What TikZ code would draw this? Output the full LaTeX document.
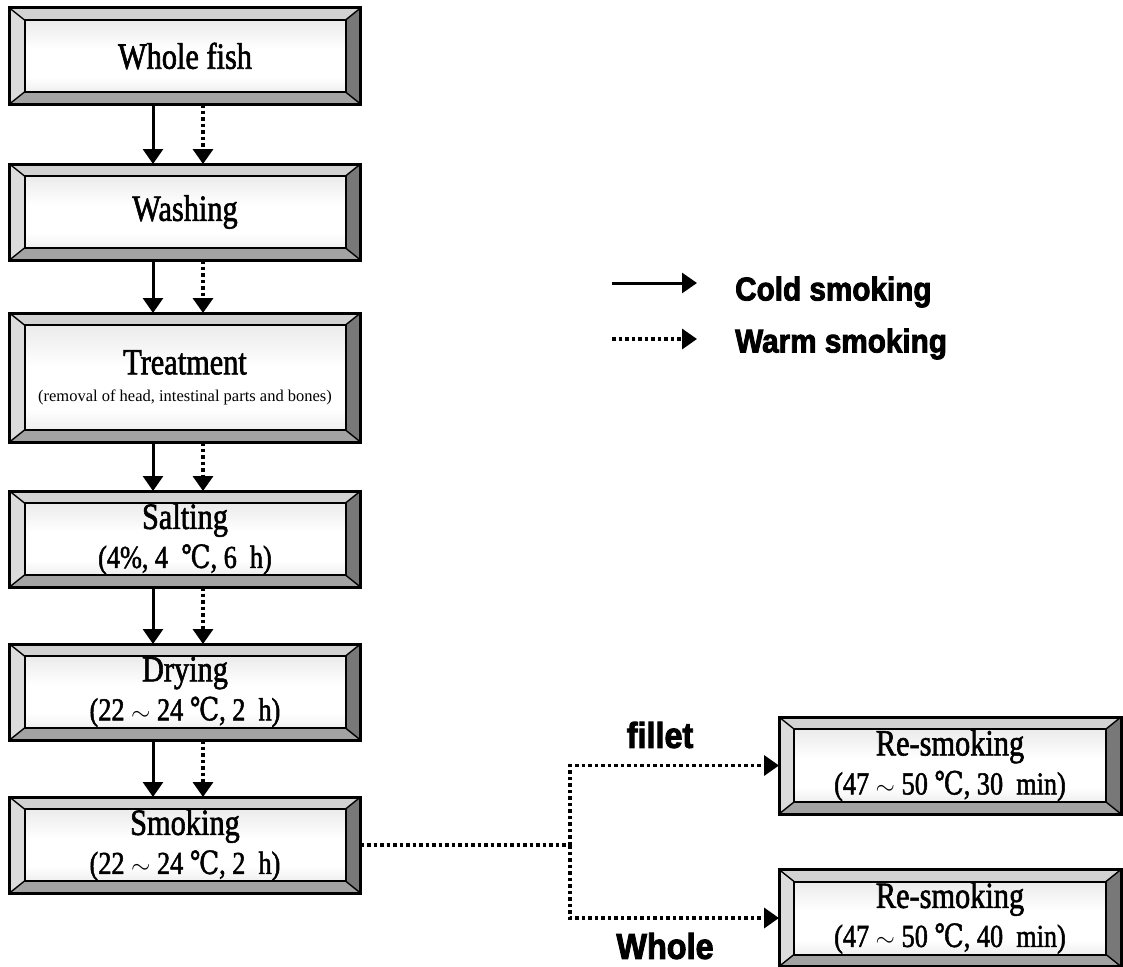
\documentclass[tikz,border=0pt]{standalone}
\usepackage{fontspec}
\setmainfont{Liberation Serif}
\newfontfamily\boxfont[FakeStretch=0.82,FakeBold=1.6]{Liberation Serif}
\newfontfamily\degfont[FakeStretch=0.82,FakeBold=1.2]{DejaVu Serif}
\newfontfamily\legendfont[FakeStretch=0.9,FakeBold=2.6]{Liberation Sans}
\usetikzlibrary{arrows.meta, positioning, calc}
\definecolor{bevtop}{HTML}{D2D2D2}
\definecolor{bevleft}{HTML}{DCDCDC}
\definecolor{bevbottom}{HTML}{A3A3A3}
\definecolor{bevright}{HTML}{787878}
\pgfdeclareverticalshading{boxface}{100bp}{color(0bp)=(black!22); color(35bp)=(white); color(55bp)=(white); color(100bp)=(black!18)}
\newcommand{\degc}{{\degfont ℃}}
\newcommand{\condline}[1]{{\fontsize{32}{39}\selectfont #1}}

\begin{document}
\begin{tikzpicture}[x=1pt, y=-1pt,
    node distance=56pt and 0pt,
    stepbox/.style={draw=black, line width=3pt, outer sep=0pt, inner sep=0pt,
      minimum width=351pt, minimum height=#1, align=center,
      font=\boxfont\fontsize{37}{39}\selectfont,
      path picture={
        \path (path picture bounding box.north west) coordinate (onw)
              (path picture bounding box.north east) coordinate (one)
              (path picture bounding box.south east) coordinate (ose)
              (path picture bounding box.south west) coordinate (osw);
        \path ($(onw)+(15pt,-12pt)$) coordinate (inw)
              ($(one)+(-15pt,-12pt)$) coordinate (ine)
              ($(ose)+(-15pt,12pt)$) coordinate (ise)
              ($(osw)+(15pt,12pt)$) coordinate (isw);
        \fill[bevtop] (onw) -- (one) -- (ine) -- (inw) -- cycle;
        \fill[bevleft] (onw) -- (inw) -- (isw) -- (osw) -- cycle;
        \fill[bevbottom] (osw) -- (isw) -- (ise) -- (ose) -- cycle;
        \fill[bevright] (one) -- (ose) -- (ise) -- (ine) -- cycle;
        \draw[line width=1.4pt] (onw) -- (inw) (one) -- (ine) (ose) -- (ise) (osw) -- (isw);
        \shade[shading=boxface] (inw) rectangle (ise);
        \draw[line width=2pt] (inw) rectangle (ise);
      }},
    stepbox/.default=96pt,
    resmokebox/.style={stepbox=97pt, minimum width=342pt},
    coldarrow/.style={line width=3pt, -{Triangle[width=20pt,length=15pt]}},
    warmline/.style={line width=3.5pt, dash pattern=on 3.5pt off 3pt},
    warmarrow/.style={warmline, -{Triangle[width=20pt,length=15pt]}},
    legendtext/.style={font=\legendfont\bfseries\fontsize{33}{36}\selectfont, inner sep=0pt, anchor=west},
    branchlabel/.style={font=\legendfont\bfseries\fontsize{36}{38}\selectfont, inner sep=0pt},
  ]
  \useasboundingbox (0,0) rectangle (1123,966);

  % main process column
  \node[stepbox] (fish) at (185,56) {Whole fish};
  \node[stepbox, below=60pt of fish] (wash) {Washing};
  \node[stepbox=129pt, below=53pt of wash] (treat) {Treatment\\[-12pt]
    {\rmfamily\fontsize{16.5}{20}\selectfont (removal of head, intestinal parts and bones)}};
  \node[stepbox, below=49pt of treat] (salt) {Salting\\
    \condline{(4\%, 4\ \ \degc, 6\ \ h)}};
  \node[stepbox, below=57pt of salt] (dry) {Drying\\
    \condline{(22 $\sim$ 24 \degc, 2\ \ h)}};
  \node[stepbox, below=57pt of dry] (smoke) {Smoking\\
    \condline{(22 $\sim$ 24 \degc, 2\ \ h)}};

  % re-smoking boxes
  \node[resmokebox] (refillet) at (950,765.5) {Re-smoking\\
    \condline{(47 $\sim$ 50 \degc, 30\ \ min)}};
  \node[resmokebox] (rewhole) at (950,918) {Re-smoking\\
    \condline{(47 $\sim$ 50 \degc, 40\ \ min)}};

  % cold and warm paths between steps
  \foreach \from/\to in {fish/wash, wash/treat, treat/salt, salt/dry, dry/smoke} {
    \draw[coldarrow] ([xshift=-32pt]\from.south) -- ([xshift=-32pt]\to.north);
    \draw[warmarrow] ([xshift=18pt]\from.south) -- ([xshift=18pt]\to.north);
  }

  % branching after smoking
  \coordinate (split) at (570,845);
  \draw[warmline] (smoke.east) -- (split);
  \draw[warmarrow] (split) |- (refillet.west);
  \draw[warmarrow] (split) |- (rewhole.west);
  \node[branchlabel] (filletlbl) at (660,735) {fillet};
  \node[branchlabel] (wholelbl) at (665,946) {Whole};

  % legend
  \coordinate (coldstart) at (612,283);
  \coordinate (coldend) at (697,283);
  \coordinate (warmstart) at (612,339);
  \coordinate (warmend) at (697,339);
  \draw[coldarrow] (coldstart) -- (coldend);
  \draw[warmarrow] (warmstart) -- (warmend);
  \node[legendtext] (coldlbl) at (735,292) {Cold smoking};
  \node[legendtext] (warmlbl) at (735,344) {Warm smoking};
\end{tikzpicture}
\end{document}
